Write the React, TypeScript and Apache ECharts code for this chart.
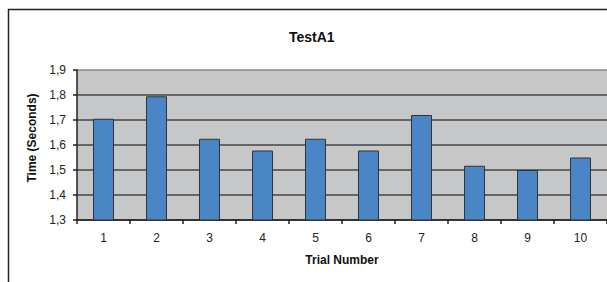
import React, { useEffect, useRef } from "react";
import * as echarts from "echarts";

const title = "TestA1";
const categories = ["1", "2", "3", "4", "5", "6", "7", "8", "9", "10"];
const times = [1.705, 1.795, 1.625, 1.578, 1.625, 1.578, 1.72, 1.517, 1.5, 1.55];
const xAxisName = "Trial Number";
const yAxisName = "Time (Seconds)";

export default function App() {
  const ref = useRef<HTMLDivElement>(null);
  useEffect(() => {
    const chart = echarts.init(ref.current!, null, { renderer: "svg" });
    const font = "'Liberation Sans', Arial, sans-serif";
    chart.setOption({
      animation: false,
      backgroundColor: "#ffffff",
      textStyle: { fontFamily: font },
      title: {
        text: title,
        left: 284,
        top: 25,
        textStyle: { fontFamily: font, fontSize: 14, fontWeight: "bold", color: "#111" },
      },
      graphic: [
        {
          type: "rect",
          shape: { x: 8.5, y: 9.5, width: 700, height: 400 },
          style: { fill: "none", stroke: "#222", lineWidth: 1.5 },
          z: 100,
        },
      ],
      grid: {
        left: 77,
        top: 70,
        right: -1,
        bottom: 62,
        show: true,
        backgroundColor: "#c6c7c9",
        borderWidth: 0,
      },
      xAxis: {
        type: "category",
        data: categories,
        boundaryGap: true,
        name: xAxisName,
        nameLocation: "middle",
        nameGap: 34,
        nameTextStyle: { fontFamily: font, fontSize: 12, fontWeight: "bold", color: "#111" },
        axisLine: { lineStyle: { color: "#222", width: 1.5 } },
        axisTick: { show: true, length: 4, alignWithLabel: false, lineStyle: { color: "#222", width: 1.5 } },
        axisLabel: { fontFamily: font, fontSize: 12, color: "#222", margin: 12 },
        splitLine: { show: false },
      },
      yAxis: {
        type: "value",
        min: 1.3,
        max: 1.9,
        interval: 0.1,
        name: yAxisName,
        nameLocation: "middle",
        nameGap: 39,
        nameTextStyle: {
          fontFamily: font,
          fontSize: 12,
          fontWeight: "bold",
          color: "#111",
          padding: [0, 0, 0, 14],
        },
        axisLine: { show: true, lineStyle: { color: "#222", width: 1.5 } },
        axisTick: { show: true, length: 4, lineStyle: { color: "#222", width: 1.5 } },
        axisLabel: {
          fontFamily: font,
          fontSize: 12,
          color: "#222",
          margin: 11,
          formatter: (v: number) => v.toFixed(1).replace(".", ","),
        },
        splitLine: {
          show: true,
          lineStyle: {
            color: ["#444", "#444", "#444", "#444", "#444", "#444", "#888"],
            width: 1.5,
          },
        },
      },
      series: [
        {
          type: "bar",
          data: times,
          barWidth: 21,
          itemStyle: { color: "#4a85c6", borderColor: "#333", borderWidth: 1 },
        },
      ],
    });
    return () => chart.dispose();
  }, []);
  return (
    <div
      ref={ref}
      style={{ position: "fixed", left: 0, top: 0, width: 607, height: 282 }}
    />
  );
}
